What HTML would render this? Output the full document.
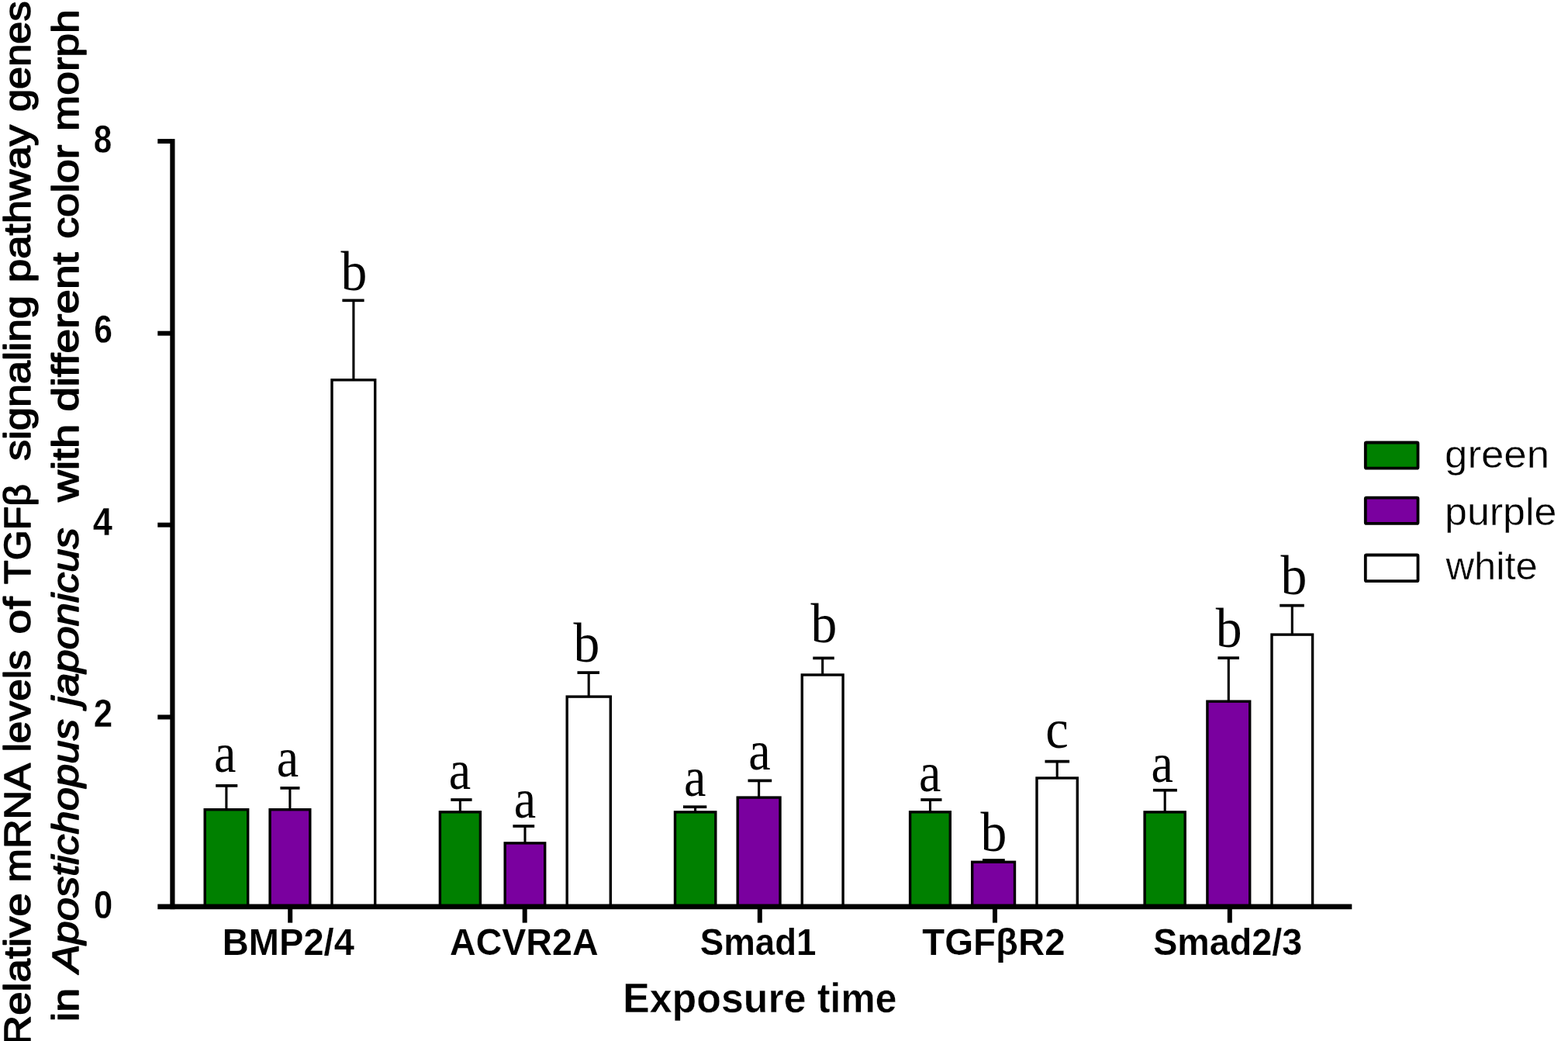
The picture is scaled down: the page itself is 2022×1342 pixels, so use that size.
<!DOCTYPE html>
<html lang="en"><head><meta charset="utf-8"><title>Relative mRNA levels of TGFβ signaling pathway genes in Apostichopus japonicus with different color morph</title><style>html,body{margin:0;padding:0;background:#fff}body{width:2022px;height:1342px;overflow:hidden}svg{display:block}text{fill:#000;stroke-linejoin:round}.b{font-family:"Liberation Sans",Arial,sans-serif;font-weight:bold}.r{font-family:"Liberation Sans",Arial,sans-serif;font-weight:normal}.i{font-family:"Liberation Sans",Arial,sans-serif;font-weight:normal;font-style:italic}.s{font-family:"Liberation Serif","Times New Roman",serif}</style></head><body>
<svg width="2022" height="1342" viewBox="0 0 2022 1342">
<rect width="2022" height="1342" fill="#fff"/>
<defs><filter id="soft" x="0" y="0" width="2022" height="1342" filterUnits="userSpaceOnUse" color-interpolation-filters="sRGB"><feGaussianBlur stdDeviation="0.5"/></filter></defs>
<g filter="url(#soft)">
<path d="M291.9 1043.0V1012.9" stroke="#000" stroke-width="3.1" fill="none"/><path d="M278.2 1012.9H306.3" stroke="#000" stroke-width="3.7" fill="none"/>
<rect x="264.20" y="1043.70" width="55.50" height="125.10" fill="#008000" stroke="#000" stroke-width="3.4"/>
<path d="M373.9 1043.0V1015.9" stroke="#000" stroke-width="3.1" fill="none"/><path d="M361.4 1015.9H386.5" stroke="#000" stroke-width="3.7" fill="none"/>
<rect x="348.10" y="1043.70" width="51.70" height="125.10" fill="#7a009f" stroke="#000" stroke-width="3.4"/>
<path d="M455.9 489.1V387.3" stroke="#000" stroke-width="3.1" fill="none"/><path d="M441.4 387.3H469.6" stroke="#000" stroke-width="3.7" fill="none"/>
<rect x="428.00" y="489.80" width="55.70" height="679.00" fill="#ffffff" stroke="#000" stroke-width="3.4"/>
<path d="M593.4 1046.1V1031.0" stroke="#000" stroke-width="3.1" fill="none"/><path d="M581.3 1031.0H608.6" stroke="#000" stroke-width="3.7" fill="none"/>
<rect x="567.40" y="1046.80" width="52.00" height="122.00" fill="#008000" stroke="#000" stroke-width="3.4"/>
<path d="M677.0 1086.2V1065.0" stroke="#000" stroke-width="3.1" fill="none"/><path d="M661.4 1065.0H689.2" stroke="#000" stroke-width="3.7" fill="none"/>
<rect x="651.20" y="1086.90" width="51.50" height="81.90" fill="#7a009f" stroke="#000" stroke-width="3.4"/>
<path d="M759.2 897.4V867.1" stroke="#000" stroke-width="3.1" fill="none"/><path d="M744.5 867.1H773.0" stroke="#000" stroke-width="3.7" fill="none"/>
<rect x="731.20" y="898.10" width="56.10" height="270.70" fill="#ffffff" stroke="#000" stroke-width="3.4"/>
<path d="M896.6 1046.2V1040.2" stroke="#000" stroke-width="3.1" fill="none"/><path d="M881.0 1040.2H911.3" stroke="#000" stroke-width="3.7" fill="none"/>
<rect x="870.50" y="1046.90" width="52.30" height="121.90" fill="#008000" stroke="#000" stroke-width="3.4"/>
<path d="M978.6 1027.4V1006.4" stroke="#000" stroke-width="3.1" fill="none"/><path d="M964.5 1006.4H995.2" stroke="#000" stroke-width="3.7" fill="none"/>
<rect x="951.20" y="1028.10" width="54.80" height="140.70" fill="#7a009f" stroke="#000" stroke-width="3.4"/>
<path d="M1060.7 869.3V848.4" stroke="#000" stroke-width="3.1" fill="none"/><path d="M1048.3 848.4H1075.8" stroke="#000" stroke-width="3.7" fill="none"/>
<rect x="1034.30" y="870.00" width="52.80" height="298.80" fill="#ffffff" stroke="#000" stroke-width="3.4"/>
<path d="M1199.5 1046.1V1031.0" stroke="#000" stroke-width="3.1" fill="none"/><path d="M1187.3 1031.0H1214.5" stroke="#000" stroke-width="3.7" fill="none"/>
<rect x="1173.60" y="1046.80" width="51.70" height="122.00" fill="#008000" stroke="#000" stroke-width="3.4"/>
<path d="M1281.1 1110.6V1109.0" stroke="#000" stroke-width="3.1" fill="none"/><path d="M1267.0 1109.0H1295.8" stroke="#000" stroke-width="3.7" fill="none"/>
<rect x="1253.70" y="1111.30" width="54.80" height="57.50" fill="#7a009f" stroke="#000" stroke-width="3.4"/>
<path d="M1363.2 1002.3V981.6" stroke="#000" stroke-width="3.1" fill="none"/><path d="M1347.5 981.6H1379.1" stroke="#000" stroke-width="3.7" fill="none"/>
<rect x="1337.00" y="1003.00" width="52.30" height="165.80" fill="#ffffff" stroke="#000" stroke-width="3.4"/>
<path d="M1502.2 1046.2V1018.7" stroke="#000" stroke-width="3.1" fill="none"/><path d="M1486.9 1018.7H1517.9" stroke="#000" stroke-width="3.7" fill="none"/>
<rect x="1476.10" y="1046.90" width="52.10" height="121.90" fill="#008000" stroke="#000" stroke-width="3.4"/>
<path d="M1584.3 903.5V848.2" stroke="#000" stroke-width="3.1" fill="none"/><path d="M1570.4 848.2H1597.9" stroke="#000" stroke-width="3.7" fill="none"/>
<rect x="1556.90" y="904.20" width="54.80" height="264.60" fill="#7a009f" stroke="#000" stroke-width="3.4"/>
<path d="M1666.3 817.4V780.6" stroke="#000" stroke-width="3.1" fill="none"/><path d="M1650.2 780.6H1681.8" stroke="#000" stroke-width="3.7" fill="none"/>
<rect x="1640.00" y="818.10" width="52.60" height="350.70" fill="#ffffff" stroke="#000" stroke-width="3.4"/>
<rect x="219.3" y="179.1" width="6.2" height="993.1" fill="#000"/>
<rect x="203.3" y="1165.5" width="1540.0" height="6.7" fill="#000"/>
<rect x="203.3" y="179.10" width="18" height="6" fill="#000"/>
<rect x="203.3" y="426.70" width="18" height="6" fill="#000"/>
<rect x="203.3" y="673.70" width="18" height="6" fill="#000"/>
<rect x="203.3" y="921.45" width="18" height="6" fill="#000"/>
<rect x="371.2" y="1170" width="6" height="19.6" fill="#000"/>
<rect x="673.7" y="1170" width="6" height="19.6" fill="#000"/>
<rect x="976.8" y="1170" width="6" height="19.6" fill="#000"/>
<rect x="1280.0" y="1170" width="6" height="19.6" fill="#000"/>
<rect x="1582.8" y="1170" width="6" height="19.6" fill="#000"/>
<rect x="1760.80" y="570.50" width="67.70" height="33.20" rx="1.2" fill="#008000" stroke="#000" stroke-width="3.8"/>
<rect x="1760.80" y="641.60" width="67.70" height="33.30" rx="1.2" fill="#7a009f" stroke="#000" stroke-width="3.8"/>
<rect x="1760.80" y="715.50" width="67.70" height="33.60" rx="1.2" fill="#fff" stroke="#000" stroke-width="3.8"/>
<text transform="translate(39.10,1348.17) rotate(-90)" class="r" font-size="49" textLength="196.89" lengthAdjust="spacingAndGlyphs" stroke="#000" stroke-width="1.5">Relative</text>
<text transform="translate(39.10,1137.57) rotate(-90)" class="r" font-size="49" textLength="153.57" lengthAdjust="spacingAndGlyphs" stroke="#000" stroke-width="1.5">mRNA</text>
<text transform="translate(39.10,969.57) rotate(-90)" class="r" font-size="49" textLength="131.45" lengthAdjust="spacingAndGlyphs" stroke="#000" stroke-width="1.5">levels</text>
<text transform="translate(39.10,817.47) rotate(-90)" class="r" font-size="49" textLength="47.79" lengthAdjust="spacingAndGlyphs" stroke="#000" stroke-width="1.5">of</text>
<text transform="translate(39.10,752.93) rotate(-90)" class="r" font-size="49" textLength="129.03" lengthAdjust="spacingAndGlyphs" stroke="#000" stroke-width="1.5">TGFβ</text>
<text transform="translate(39.10,594.07) rotate(-90)" class="r" font-size="49" textLength="213.23" lengthAdjust="spacingAndGlyphs" stroke="#000" stroke-width="1.5">signaling</text>
<text transform="translate(39.10,364.17) rotate(-90)" class="r" font-size="49" textLength="203.22" lengthAdjust="spacingAndGlyphs" stroke="#000" stroke-width="1.5">pathway</text>
<text transform="translate(39.10,144.03) rotate(-90)" class="r" font-size="49" textLength="142.68" lengthAdjust="spacingAndGlyphs" stroke="#000" stroke-width="1.5">genes</text>
<text transform="translate(101.00,1317.20) rotate(-90)" class="r" font-size="49" textLength="43.34" lengthAdjust="spacingAndGlyphs" stroke="#000" stroke-width="1.5">in</text>
<text transform="translate(101.00,1253.87) rotate(-90)" class="i" font-size="49" textLength="326.72" lengthAdjust="spacingAndGlyphs" stroke="#000" stroke-width="1.5">Apostichopus</text>
<text transform="translate(101.00,909.90) rotate(-90)" class="i" font-size="49" textLength="229.55" lengthAdjust="spacingAndGlyphs" stroke="#000" stroke-width="1.5">japonicus</text>
<text transform="translate(101.00,646.80) rotate(-90)" class="r" font-size="49" textLength="100.07" lengthAdjust="spacingAndGlyphs" stroke="#000" stroke-width="1.5">with</text>
<text transform="translate(101.00,530.57) rotate(-90)" class="r" font-size="49" textLength="205.14" lengthAdjust="spacingAndGlyphs" stroke="#000" stroke-width="1.5">different</text>
<text transform="translate(101.00,307.87) rotate(-90)" class="r" font-size="49" textLength="121.26" lengthAdjust="spacingAndGlyphs" stroke="#000" stroke-width="1.5">color</text>
<text transform="translate(101.00,168.90) rotate(-90)" class="r" font-size="49" textLength="156.73" lengthAdjust="spacingAndGlyphs" stroke="#000" stroke-width="1.5">morph</text>
<text x="286.67" y="1230.80" class="b" font-size="48.5" textLength="170.26" lengthAdjust="spacingAndGlyphs" stroke="#fff" stroke-width="0.2">BMP2/4</text>
<text x="579.97" y="1230.80" class="b" font-size="48.5" textLength="191.65" lengthAdjust="spacingAndGlyphs" stroke="#fff" stroke-width="0.2">ACVR2A</text>
<text x="902.73" y="1230.80" class="b" font-size="48.5" textLength="149.70" lengthAdjust="spacingAndGlyphs" stroke="#fff" stroke-width="0.2">Smad1</text>
<text x="1189.33" y="1230.80" class="b" font-size="48.5" textLength="184.18" lengthAdjust="spacingAndGlyphs" stroke="#fff" stroke-width="0.2">TGFβR2</text>
<text x="1487.13" y="1230.80" class="b" font-size="48.5" textLength="192.03" lengthAdjust="spacingAndGlyphs" stroke="#fff" stroke-width="0.2">Smad2/3</text>
<text x="803.13" y="1304.50" class="b" font-size="53" textLength="236.41" lengthAdjust="spacingAndGlyphs" stroke="#fff" stroke-width="0.4">Exposure</text>
<text x="1054.03" y="1304.50" class="b" font-size="53" textLength="102.29" lengthAdjust="spacingAndGlyphs" stroke="#fff" stroke-width="0.4">time</text>
<text x="1863.07" y="602.60" class="r" font-size="50" textLength="135.05" lengthAdjust="spacingAndGlyphs" stroke="#fff" stroke-width="0.4">green</text>
<text x="1863.13" y="676.60" class="r" font-size="50" textLength="144.20" lengthAdjust="spacingAndGlyphs" stroke="#fff" stroke-width="0.4">purple</text>
<text x="1864.47" y="746.80" class="r" font-size="50" textLength="118.26" lengthAdjust="spacingAndGlyphs" stroke="#fff" stroke-width="0.4">white</text>
<text x="120.83" y="197.00" class="b" font-size="49.5" textLength="23.52" lengthAdjust="spacingAndGlyphs" stroke="#fff" stroke-width="0.3">8</text>
<text x="121.23" y="442.00" class="b" font-size="49.5" textLength="23.65" lengthAdjust="spacingAndGlyphs" stroke="#fff" stroke-width="0.3">6</text>
<text x="119.80" y="690.00" class="b" font-size="49.5" textLength="25.24" lengthAdjust="spacingAndGlyphs" stroke="#fff" stroke-width="0.3">4</text>
<text x="120.83" y="937.40" class="b" font-size="49.5" textLength="24.39" lengthAdjust="spacingAndGlyphs" stroke="#fff" stroke-width="0.3">2</text>
<text x="120.90" y="1183.90" class="b" font-size="49.5" textLength="24.20" lengthAdjust="spacingAndGlyphs" stroke="#fff" stroke-width="0.3">0</text>
<text x="276.02" y="994.93" class="s" font-size="72.703" textLength="28.39" lengthAdjust="spacingAndGlyphs">a</text>
<text x="356.77" y="1001.18" class="s" font-size="72.703" textLength="28.39" lengthAdjust="spacingAndGlyphs">a</text>
<text x="439.55" y="373.68" class="s" font-size="71.0545" textLength="33.84" lengthAdjust="spacingAndGlyphs">b</text>
<text x="578.87" y="1016.78" class="s" font-size="72.703" textLength="28.39" lengthAdjust="spacingAndGlyphs">a</text>
<text x="662.72" y="1054.03" class="s" font-size="72.703" textLength="28.39" lengthAdjust="spacingAndGlyphs">a</text>
<text x="739.55" y="852.73" class="s" font-size="71.0545" textLength="33.84" lengthAdjust="spacingAndGlyphs">b</text>
<text x="881.97" y="1025.93" class="s" font-size="72.703" textLength="28.39" lengthAdjust="spacingAndGlyphs">a</text>
<text x="965.22" y="992.13" class="s" font-size="72.703" textLength="28.39" lengthAdjust="spacingAndGlyphs">a</text>
<text x="1045.50" y="828.38" class="s" font-size="71.0545" textLength="33.84" lengthAdjust="spacingAndGlyphs">b</text>
<text x="1185.12" y="1019.93" class="s" font-size="72.703" textLength="28.39" lengthAdjust="spacingAndGlyphs">a</text>
<text x="1264.55" y="1097.23" class="s" font-size="71.0545" textLength="33.84" lengthAdjust="spacingAndGlyphs">b</text>
<text x="1348.13" y="963.73" class="s" font-size="72.0027" textLength="29.59" lengthAdjust="spacingAndGlyphs">c</text>
<text x="1484.47" y="1007.83" class="s" font-size="72.703" textLength="28.39" lengthAdjust="spacingAndGlyphs">a</text>
<text x="1567.65" y="834.38" class="s" font-size="71.0545" textLength="33.84" lengthAdjust="spacingAndGlyphs">b</text>
<text x="1651.55" y="766.38" class="s" font-size="71.0545" textLength="33.84" lengthAdjust="spacingAndGlyphs">b</text>
</g>
</svg>
</body></html>
